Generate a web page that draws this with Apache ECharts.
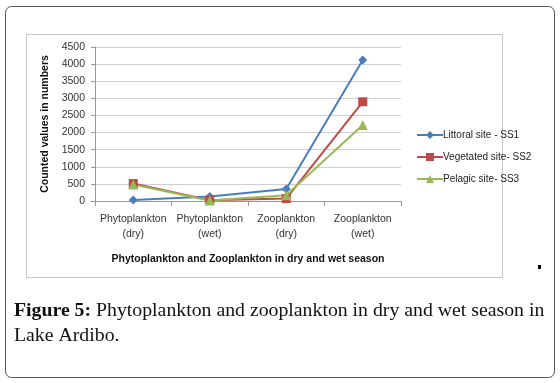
<!DOCTYPE html>
<html>
<head>
<meta charset="utf-8">
<script src="https://cdn.jsdelivr.net/npm/echarts@6/dist/echarts.min.js"></script>
<style>
  html, body { margin: 0; padding: 0; background: #fff; }
  #chart { width: 560px; height: 383px; }
</style>
</head>
<body>
<div id="chart"></div>
<script>
var categories = ["Phytoplankton\n(dry)", "Phytoplankton\n(wet)", "Zooplankton\n(dry)", "Zooplankton\n(wet)"];
var yTicks = [0, 500, 1000, 1500, 2000, 2500, 3000, 3500, 4000, 4500];
var littoral = [30, 130, 350, 4120];
var vegetated = [510, 20, 70, 2900];
var pelagic = [480, 15, 170, 2220];

var chart = echarts.init(document.getElementById('chart'), null, {renderer: 'canvas'});
var font = 'Liberation Sans, Arial, sans-serif';

function lineSeries(name, data, color, symbol, size) {
    return {
        name: name,
        type: 'line',
        data: data,
        symbol: symbol,
        symbolSize: size,
        showAllSymbol: true,
        lineStyle: {color: color, width: 2},
        itemStyle: {color: color},
        emphasis: {disabled: true}
    };
}

var option = {
    animation: false,
    color: ['#4a7ebb', '#be4b48', '#98b954'],
    graphic: [
        {type: 'rect', shape: {x: 5.5, y: 6.5, width: 549, height: 371, r: 6},
         style: {fill: 'none', stroke: '#555', lineWidth: 1}},
        {type: 'rect', shape: {x: 26.5, y: 34.5, width: 476, height: 243},
         style: {fill: 'none', stroke: '#c8c8c8', lineWidth: 1}},
        {type: 'rect', shape: {x: 538, y: 265, width: 3, height: 4},
         style: {fill: '#000'}},
        {type: 'text', left: 14, top: 298,
         style: {text: '{b|Figure 5:} Phytoplankton and zooplankton in dry and wet season in\nLake Ardibo.',
                 font: '19.8px Liberation Serif, serif', fill: '#111', lineHeight: 25,
                 rich: {b: {fontWeight: 'bold', fontSize: 19.8, fontFamily: 'Liberation Serif'}}}}
    ],
    legend: {
        orient: 'vertical',
        left: 411,
        top: 125,
        itemGap: 12,
        itemWidth: 26,
        itemHeight: 10,
        textStyle: {fontSize: 10, fontFamily: font, color: '#222', padding: [0, 0, 0, -5]},
        data: ['Littoral site - SS1', 'Vegetated site- SS2', 'Pelagic site- SS3']
    },
    grid: {left: 95, right: 159, top: 47, bottom: 182},
    xAxis: {
        type: 'category',
        data: categories,
        boundaryGap: true,
        name: 'Phytoplankton and Zooplankton in dry and wet season',
        nameLocation: 'middle',
        nameGap: 53,
        nameTextStyle: {fontSize: 10.5, fontWeight: 'bold', fontFamily: font, color: '#111'},
        axisLine: {lineStyle: {color: '#999'}},
        axisTick: {show: true, length: 5, lineStyle: {color: '#999'}},
        axisLabel: {interval: 0, fontSize: 10.5, fontFamily: font, color: '#333', lineHeight: 15, margin: 11}
    },
    yAxis: {
        type: 'value',
        min: 0,
        max: 4500,
        interval: 500,
        name: 'Counted values in numbers',
        nameLocation: 'middle',
        nameGap: 41,
        nameRotate: 90,
        nameTextStyle: {fontSize: 10.5, fontWeight: 'bold', fontFamily: font, color: '#111'},
        axisLine: {show: true, lineStyle: {color: '#999'}},
        axisTick: {show: true, length: 4, lineStyle: {color: '#999'}},
        splitLine: {lineStyle: {color: '#cfcfcf'}},
        axisLabel: {fontSize: 10.5, fontFamily: font, color: '#333', margin: 10,
                    formatter: function (v) { return yTicks.indexOf(v) >= 0 ? String(v) : ''; }}
    },
    series: [
        lineSeries('Littoral site - SS1', littoral, '#4a7ebb', 'diamond', 9),
        lineSeries('Vegetated site- SS2', vegetated, '#be4b48', 'rect', 9),
        lineSeries('Pelagic site- SS3', pelagic, '#98b954', 'triangle', 10)
    ]
};
chart.setOption(option);
</script>
</body>
</html>
